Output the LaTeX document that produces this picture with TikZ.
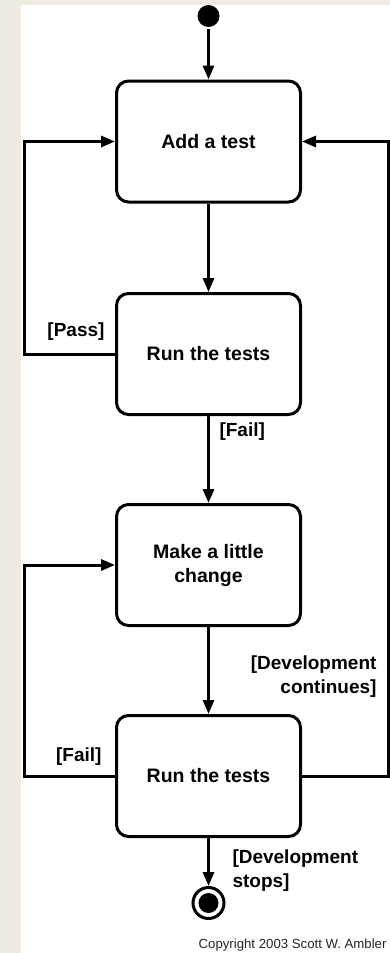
\documentclass[tikz,border=0pt]{standalone}
\usepackage{fontspec}
\setmainfont{Liberation Sans}
\usetikzlibrary{arrows.meta,calc}
\definecolor{beige}{HTML}{EFEBE2}
\begin{document}
\begin{tikzpicture}[x=1pt,y=-1pt,
  line width=3pt,
  state/.style={draw,rounded corners=12pt,minimum width=184pt,minimum height=121pt,
    align=center,font=\fontsize{19.5}{24}\selectfont\bfseries,inner sep=0pt},
  guard/.style={font=\fontsize{19}{24}\selectfont\bfseries,inner sep=0pt},
  flow/.style={-{Triangle[length=14pt,width=11pt]}}]
\useasboundingbox (0,0) rectangle (390,953);
\fill[beige] (0,0) rectangle (390,953);
\fill[white] (21,5) rectangle (390,953);

\node[circle,fill=black,minimum size=22pt,inner sep=0pt] (start) at (208.5,16) {};
\node[state] (b1) at (208.5,141.5) {Add a test};
\node[state] (b2) at (208.5,354) {Run the tests};
\node[state] (b3) at (208.5,565) {Make a little\\change};
\node[state] (b4) at (208.5,776) {Run the tests};
\node[circle,draw,line width=3pt,minimum size=31pt,inner sep=0pt] (stop) at (208.5,903) {};
\fill (stop.center) circle (10pt);

\coordinate (L1) at (24,354);
\coordinate (L2) at (24,776);
\coordinate (R1) at (388,776);

\draw[flow] (start) -- (b1.north);
\draw[flow] (b1.south) -- (b2.north);
\draw[flow] (b2.south) -- (b3.north);
\draw[flow] (b3.south) -- (b4.north);
\draw[flow] (b4.south) -- (stop.north);
\draw[flow] (b2.west) -- (L1) |- (b1.west);
\draw[flow] (b4.west) -- (L2) |- (b3.west);
\draw[flow] (b4.east) -- (R1) |- (b1.east);

\node[guard,anchor=east] (gpass) at (106,332) {[Pass]};
\node[guard,anchor=west] (gfail1) at (218,432) {[Fail]};
\node[guard,anchor=east] (gfail2) at (103,757) {[Fail]};
\node[guard,anchor=east,align=right] (gcont) at (378,677) {[Development\\continues]};
\node[guard,anchor=west,align=left] (gstop) at (231,871) {[Development\\stops]};
\node[anchor=base east,inner sep=0pt,font=\fontsize{13.2}{15}\selectfont,text=black!85] (copy) at (388,948) {Copyright 2003 Scott W. Ambler};
\end{tikzpicture}
\end{document}
